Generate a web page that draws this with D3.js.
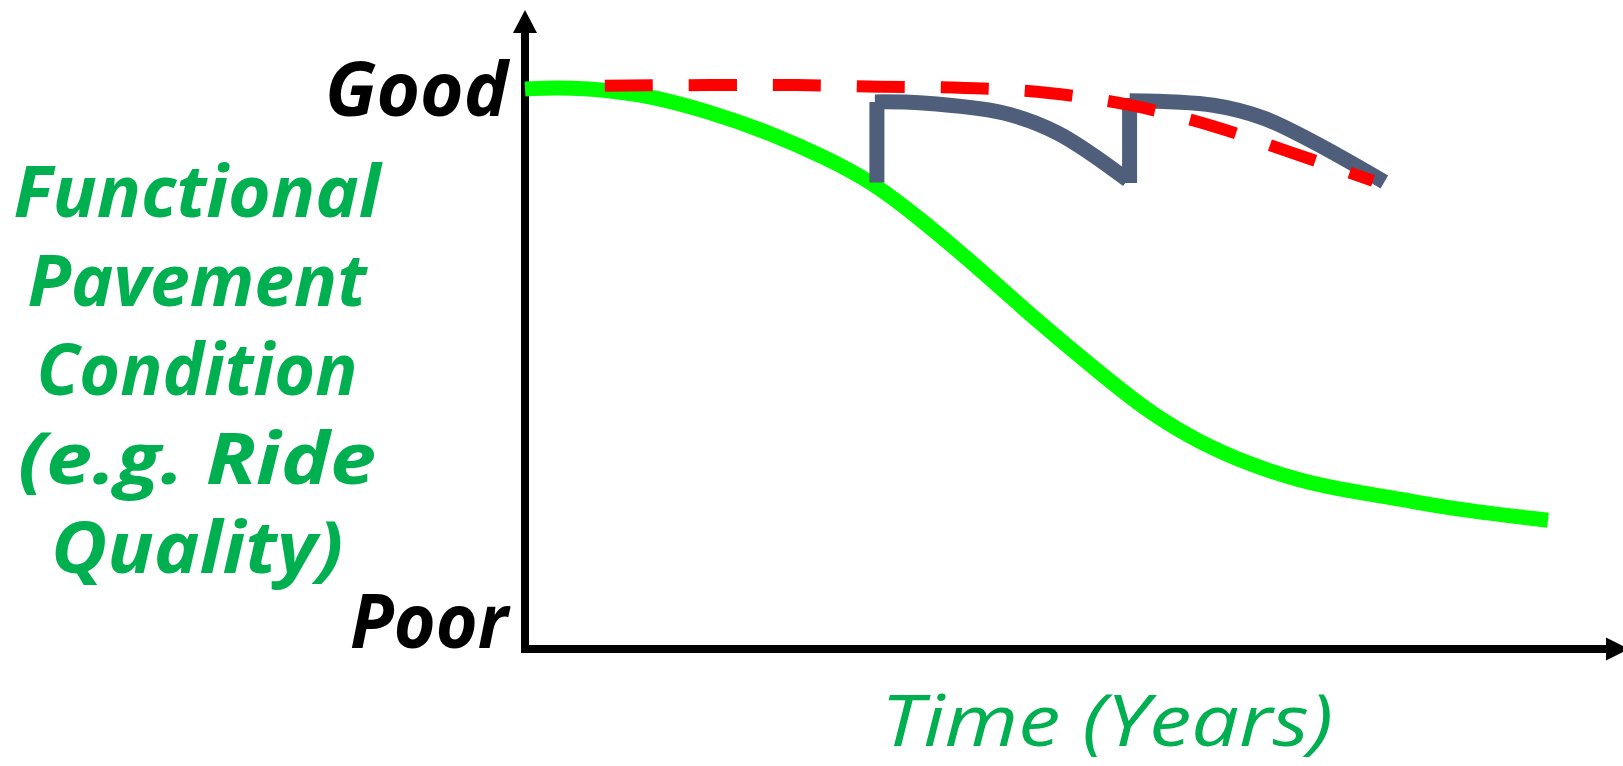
<!doctype html>
<html lang="en">

<head>
    <meta charset="utf-8">
    <title>Pavement condition over time</title>
    <script src="https://cdn.jsdelivr.net/npm/d3@7"></script>
    <style>
        body {
            margin: 0;
            background: #ffffff;
        }

        svg {
            display: block;
        }

        text {
            font-family: "Open Sans", "DejaVu Sans", sans-serif;
            font-style: italic;
        }
    </style>
</head>

<body>
    <svg></svg>
    <script>
        var width = 1623;
        var height = 766;

        // condition in % of "Good", time in % of the plotted span
        var greenTime = [0, 4.1, 11.2, 17.8, 24.2, 29.1, 34.0, 38.9, 43.8, 50.3, 56.2, 61.1, 66.0, 70.9, 75.8, 80.6, 85.5, 91.4, 100];
        var greenCond = [100, 100.4, 99.3, 96.1, 92.0, 88.0, 83.4, 76.4, 68.9, 58.2, 49.3, 42.1, 36.8, 32.9, 30.0, 28.2, 26.8, 24.8, 23.0];

        var redTime = [7.8, 26.6, 34.7, 43.0, 51.2, 59.2, 67.2, 75.0, 82.9];
        var redCond = [100.6, 100.7, 100.4, 100.2, 99.3, 97.1, 93.4, 88.6, 83.6];

        var treat1Time = [34.2, 38.9, 46.8, 52.1, 58.9];
        var treat1Cond = [97.7, 97.5, 95.7, 92.1, 83.75];
        var treat2Time = [59.1, 67.3, 72.2, 77.1, 84.0];
        var treat2Cond = [97.9, 97.1, 94.8, 90.5, 83.4];

        // the jumps when a treatment is applied
        var jumpTime = [34.4, 59.1];
        var jumpFrom = [83.3, 83.2];
        var jumpTo = [97.7, 98.4];

        var levelLabels = ["Good", "Poor"];
        var yTitleLines = ["Functional", "Pavement", "Condition", "(e.g. Ride", "Quality)"];
        var xTitle = "Time (Years)";

        var svg = d3.select('svg').attr('width', width).attr('height', height);

        var xScale = d3.scaleLinear().domain([0, 100]).range([525, 1548]);
        var yScale = d3.scaleLinear().domain([0, 100]).range([649, 89]);

        function zip(xs, ys) {
            return xs.map(function (x, i) { return [x, ys[i]]; });
        }

        var line = d3.line()
            .x(function (d) { return xScale(d[0]); })
            .y(function (d) { return yScale(d[1]); })
            .curve(d3.curveCatmullRom.alpha(0.5));

        // smoother for the long hand-read curve
        var smoothLine = d3.line()
            .x(function (d) { return xScale(d[0]); })
            .y(function (d) { return yScale(d[1]); })
            .curve(d3.curveBasis);

        // axes (no ticks, just arrows)
        var x0 = xScale(0), y0 = yScale(0);
        svg.append('line')
            .attr('x1', x0).attr('x2', x0)
            .attr('y1', y0 + 4).attr('y2', 30)
            .attr('stroke', '#000').attr('stroke-width', 8);
        svg.append('line')
            .attr('x1', x0 - 4).attr('x2', 1608)
            .attr('y1', y0).attr('y2', y0)
            .attr('stroke', '#000').attr('stroke-width', 8);
        svg.append('path')
            .attr('d', 'M' + x0 + ',10 L' + (x0 + 12) + ',33 L' + (x0 - 12) + ',33 Z')
            .attr('fill', '#000');
        svg.append('path')
            .attr('d', 'M1629,' + y0 + ' L1606,' + (y0 - 11.5) + ' L1606,' + (y0 + 11.5) + ' Z')
            .attr('fill', '#000');

        // original deterioration curve
        svg.append('path')
            .datum(zip(greenTime, greenCond))
            .attr('d', smoothLine)
            .attr('fill', 'none')
            .attr('stroke', '#00ff00')
            .attr('stroke-width', 15);

        // treated pavement
        [zip(treat1Time, treat1Cond), zip(treat2Time, treat2Cond)].forEach(function (pts) {
            svg.append('path')
                .datum(pts)
                .attr('d', line)
                .attr('fill', 'none')
                .attr('stroke', '#4f5f7b')
                .attr('stroke-width', 15);
        });
        svg.selectAll('line.jump')
            .data(jumpTime)
            .enter()
            .append('line')
            .attr('class', 'jump')
            .attr('x1', function (d) { return xScale(d); })
            .attr('x2', function (d) { return xScale(d); })
            .attr('y1', function (d, i) { return yScale(jumpFrom[i]); })
            .attr('y2', function (d, i) { return yScale(jumpTo[i]); })
            .attr('stroke', '#4f5f7b')
            .attr('stroke-width', 15);

        // red dashed
        svg.append('path')
            .datum(zip(redTime, redCond))
            .attr('d', line)
            .attr('fill', 'none')
            .attr('stroke', '#ff0000')
            .attr('stroke-width', 12)
            .attr('stroke-dasharray', '48,36');

        // Good / Poor
        var levelWidths = [183, 158];
        var levelBase = [116, 648];
        svg.selectAll('text.level')
            .data(levelLabels)
            .enter()
            .append('text')
            .attr('class', 'level')
            .attr('x', 508)
            .attr('y', function (d, i) { return levelBase[i]; })
            .attr('text-anchor', 'end')
            .attr('font-size', 76)
            .attr('font-weight', 'bold')
            .attr('fill', '#000')
            .attr('textLength', function (d, i) { return levelWidths[i]; })
            .attr('lengthAdjust', 'spacingAndGlyphs')
            .text(function (d) { return d; });

        // y title
        var titleWidths = [367, 339, 321, 358, 292];
        svg.selectAll('text.ytitle')
            .data(yTitleLines)
            .enter()
            .append('text')
            .attr('class', 'ytitle')
            .attr('x', 197)
            .attr('y', function (d, i) { return 217 + i * 89; })
            .attr('text-anchor', 'middle')
            .attr('font-size', 72)
            .attr('font-weight', 'bold')
            .attr('fill', '#00b050')
            .attr('textLength', function (d, i) { return titleWidths[i]; })
            .attr('lengthAdjust', 'spacingAndGlyphs')
            .text(function (d) { return d; });

        // x title
        svg.append('text')
            .attr('x', 1107)
            .attr('y', 746)
            .attr('text-anchor', 'middle')
            .attr('font-size', 72)
            .attr('fill', '#00b050')
            .attr('textLength', 452)
            .attr('lengthAdjust', 'spacingAndGlyphs')
            .text(xTitle);
    </script>

</body>

</html>
